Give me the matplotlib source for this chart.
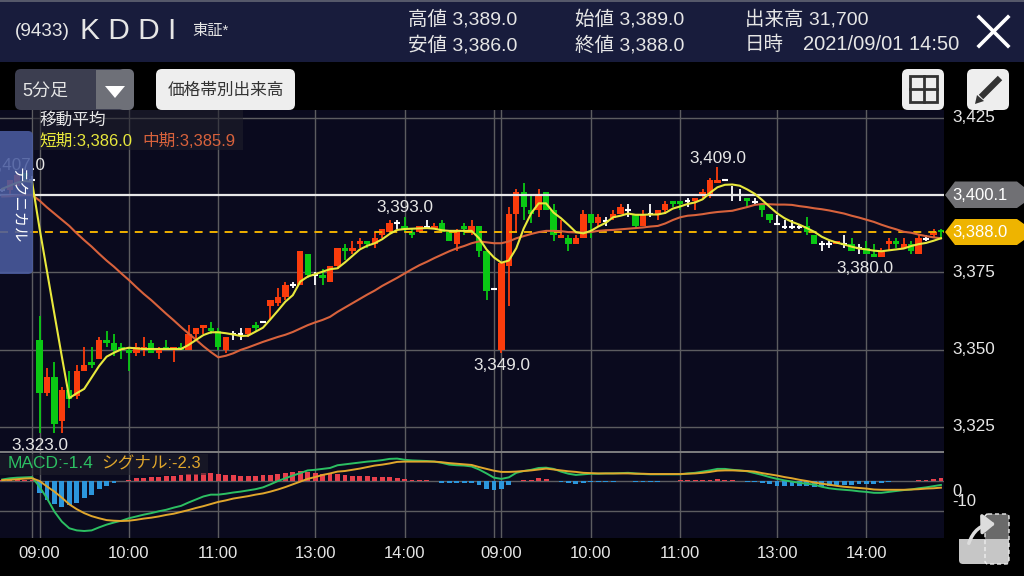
import matplotlib
matplotlib.use('Agg')
import matplotlib.pyplot as plt
import numpy as np
from matplotlib.patches import Rectangle, FancyBboxPatch, Polygon, FancyArrowPatch

plt.rcParams['font.family'] = ['Liberation Sans', 'Noto Sans CJK JP', 'DejaVu Sans']

W, H = 1024, 576

# 5 minute bars, first row is the five bars before the first 09:00
opens = [3401.6, 3401.6, 3403, 3407, 3405,
         3353, 3336, 3341, 3327, 3337, 3335, 3343, 3346, 3347, 3353,
         3352, 3351, 3350, 3349, 3350, 3352, 3349, 3351, 3350, 3351,
         3350, 3355, 3357, 3357, 3356, 3350, 3355, 3355, 3355, 3358,
         3359, 3364, 3365, 3367, 3371, 3371, 3381, 3374, 3374, 3372,
         3377, 3383, 3382, 3384, 3385, 3384, 3387, 3388, 3391, 3390,
         3388, 3388, 3389.5, 3389, 3391, 3388, 3384, 3390, 3388, 3390,
         3382, 3369.7, 3350, 3377, 3394, 3401, 3395, 3395, 3401, 3395,
         3386, 3386, 3384, 3386, 3394, 3391, 3391.7, 3392.5, 3394, 3395,
         3394, 3390, 3394, 3394, 3395, 3398, 3398, 3398, 3398, 3400,
         3400, 3404, 3404.7, 3400, 3400, 3399, 3397.8, 3397, 3394, 3390.7,
         3389.7, 3389.7, 3389.7, 3390, 3387, 3384, 3384, 3384, 3384, 3384,
         3383, 3383, 3381, 3380, 3384, 3385, 3383, 3384, 3381, 3385.8,
         3387, 3388.7]
closes = [3401.6, 3405, 3406.5, 3406, 3405,
          3336, 3341, 3326, 3337, 3334, 3343, 3345, 3345, 3353, 3352,
          3350, 3350, 3349, 3351, 3351, 3349, 3350, 3350, 3351, 3350,
          3355, 3357, 3358, 3356, 3351, 3354, 3355, 3355, 3357, 3357,
          3359, 3366, 3367, 3371, 3371, 3382, 3374, 3374, 3373, 3377,
          3383, 3382, 3383, 3385, 3384, 3386, 3389, 3391, 3391, 3389,
          3387, 3390, 3389.5, 3390, 3388, 3385, 3388.5, 3389, 3390, 3382,
          3369, 3369.7, 3378, 3394, 3401, 3396, 3394, 3400, 3395, 3387,
          3387, 3384, 3386, 3394, 3391, 3393, 3391.7, 3394, 3396, 3395,
          3390, 3394, 3394, 3395, 3397, 3397, 3397, 3398, 3399, 3401,
          3405, 3405, 3404.7, 3400, 3400, 3398, 3397.8, 3395, 3392, 3390.7,
          3389.7, 3389.7, 3389.7, 3388, 3384, 3384, 3384, 3385, 3384, 3382,
          3383, 3381, 3380, 3381.7, 3385, 3384, 3384, 3382, 3386, 3385.8,
          3388, 3388]
highs = [3402, 3405, 3407, 3407, 3406,
         3361, 3344, 3346, 3338, 3343, 3345, 3351, 3351, 3354, 3356,
         3355, 3352, 3351, 3352, 3354, 3353, 3351, 3353, 3351, 3352,
         3358, 3357, 3358, 3359, 3357, 3354, 3356, 3357, 3357, 3359,
         3359, 3366, 3370, 3372, 3372, 3382, 3381, 3375, 3376, 3377,
         3383, 3384, 3385, 3386, 3385, 3388, 3389, 3392, 3392, 3393,
         3389, 3390, 3392, 3391, 3392, 3388, 3389, 3391, 3392, 3390,
         3382, 3369.7, 3378, 3396, 3402, 3404, 3400, 3402, 3401, 3397,
         3392, 3387, 3387, 3395, 3394, 3394, 3393, 3395, 3397, 3397,
         3394, 3395, 3397, 3395, 3398, 3398, 3398, 3399, 3399, 3402,
         3405.5, 3409, 3404.7, 3403, 3402, 3399, 3399, 3397, 3394, 3393.5,
         3392, 3392, 3390.5, 3393, 3387, 3385, 3385, 3385, 3387, 3386,
         3384, 3385, 3384, 3383, 3386, 3386, 3386, 3385, 3387, 3387,
         3389, 3389]
lows = [3401, 3400, 3403, 3405, 3404,
        3323, 3335, 3323, 3323, 3331, 3334, 3343, 3344, 3347, 3351,
        3348, 3347, 3343, 3348, 3348, 3349, 3347, 3350, 3346, 3350,
        3350, 3353, 3355, 3355, 3350, 3349, 3353, 3353, 3354, 3356,
        3359, 3360, 3364, 3366, 3370, 3371, 3373, 3371, 3371, 3372,
        3376, 3379, 3381, 3383, 3383, 3383, 3386, 3388, 3389, 3388,
        3386, 3388, 3389, 3389, 3388, 3385, 3382, 3387, 3387, 3380,
        3366, 3369.7, 3349, 3364, 3388, 3392, 3391, 3393, 3395, 3385,
        3386, 3382, 3384, 3386, 3386, 3390, 3390, 3392, 3394, 3393,
        3389, 3390, 3393, 3392, 3394, 3396, 3395, 3396, 3395, 3399,
        3399, 3404, 3404.7, 3398, 3398, 3396, 3397, 3393, 3391, 3390.7,
        3389, 3389, 3389, 3387, 3384, 3382, 3383, 3384, 3383, 3382,
        3381, 3381, 3380, 3380, 3382, 3383, 3383, 3381, 3381, 3385,
        3386, 3386]

short_ma = [3402, 3403, 3404, 3404.5, 3404.3,
            3389.3, 3375.4, 3361.5, 3347.7, 3334.3, 3335.9, 3337.3, 3341, 3344.7, 3347.7,
            3349, 3350.1, 3350.6, 3350.4, 3350.2, 3350.2, 3350.2, 3350.2, 3350.2, 3350.2,
            3351.5, 3353.1, 3354.7, 3355.6, 3355.6, 3355.3, 3354.9, 3354.4, 3354.5, 3355.8,
            3357.1, 3359.8, 3362.6, 3365.5, 3367.6, 3372, 3373.6, 3374.4, 3375.2, 3376,
            3376.3, 3378.2, 3380.3, 3382.4, 3383.6, 3384.4, 3385.7, 3387.4, 3388.7, 3389,
            3389.1, 3389.2, 3389.3, 3389.1, 3388.6, 3388.4, 3388.4, 3388.4, 3388.4, 3386,
            3382.4, 3379.8, 3378.1, 3378.8, 3382.8, 3389.2, 3394.1, 3397.3, 3397.3, 3394.3,
            3392.5, 3390.3, 3388, 3387.6, 3388.4, 3389.8, 3391, 3392.8, 3393.3, 3394,
            3393.6, 3393.6, 3393.7, 3393.7, 3394.2, 3395.6, 3396.3, 3397.1, 3397.6, 3398.6,
            3400.7, 3402.5, 3403.3, 3403.4, 3403, 3401.8, 3400.4, 3398.4, 3396.2, 3394.1,
            3392.5, 3391.3, 3390.4, 3389.3, 3388.1, 3386.5, 3385.4, 3384.6, 3384, 3383.3,
            3382.7, 3382.4, 3382, 3381.8, 3382.1, 3382.4, 3382.7, 3383.5, 3384.1, 3384.5,
            3385.2, 3386]
mid_ma = [3399.5, 3399.6, 3399.8, 3400, 3400,
          3398.2, 3396, 3394, 3392, 3390, 3387.6, 3385.4, 3383.3, 3381, 3378.8,
          3376.8, 3374.6, 3372.5, 3370.2, 3368, 3366, 3363.8, 3361.6, 3359.5, 3357.3,
          3355.2, 3353.2, 3351.1, 3349.2, 3347.5, 3348, 3348.8, 3349.9, 3350.7, 3351.6,
          3352.5, 3353.3, 3354.1, 3354.8, 3355.7, 3356.8, 3357.9, 3358.8, 3359.6, 3360.6,
          3362.2, 3363.6, 3365, 3366.4, 3367.8, 3369.1, 3370.6, 3371.9, 3373.2, 3374.6,
          3376, 3377.3, 3378.4, 3379.6, 3380.7, 3381.8, 3382.75, 3383.5, 3384.4, 3385,
          3384.7, 3384.4, 3384.4, 3385, 3386, 3386.7, 3387.4, 3388, 3388.4, 3388.4,
          3388.3, 3388, 3387.9, 3387.9, 3388, 3388.4, 3388.6, 3388.7, 3388.9, 3389.1,
          3389.3, 3389.5, 3389.8, 3390, 3390.8, 3391.9, 3392.8, 3393.3, 3393.5, 3393.8,
          3394.2, 3394.5, 3394.7, 3394.9, 3395.5, 3396.1, 3396.8, 3397.1, 3397, 3396.9,
          3396.9, 3396.8, 3396.4, 3396.1, 3395.7, 3395.4, 3395, 3394.5, 3394, 3393.3,
          3392.7, 3392, 3391.3, 3390.4, 3389.6, 3388.9, 3388.1, 3387.8, 3387.2, 3386.7,
          3386.3, 3386]

macd = [0.4, 0.8, 1, 1.1, 1.2,
        -2, -5.8, -10.2, -13.5, -15.7, -16.4, -16.6, -16.4, -15.4, -14.5,
        -13.8, -13.2, -12.4, -11.8, -11.2, -10.7, -10.1, -9.6, -8.9, -8.3,
        -7.2, -6.2, -5.2, -4.6, -4.6, -4.3, -3.9, -3.6, -3.2, -2.8,
        -2.2, -1.2, -0.1, 0.8, 1.7, 2.5, 3.4, 3.6, 3.9, 4.2,
        5.1, 5.4, 5.7, 6, 6.3, 6.5, 6.8, 7.2, 7.3, 6.9,
        6.7, 6.6, 6.5, 6.3, 5.9, 5.3, 5.1, 5, 4.7, 3.7,
        2.4, 1, 0.6, 1.1, 2.6, 3.2, 3.6, 4.2, 4.3, 3.9,
        3, 2.3, 1.9, 2.1, 2.3, 2.3, 2.4, 2.4, 2.5, 2.6,
        2.4, 2.2, 2.1, 2.1, 2.1, 2.1, 2.1, 2.4, 2.6, 3,
        3.4, 3.9, 3.9, 3.6, 3.4, 3.1, 2.5, 1.9, 1.2, 0.6,
        0.1, -0.3, -0.7, -1, -1.3, -2, -2.5, -2.8, -3, -3.2,
        -3.5, -3.7, -4, -4, -3.7, -3.4, -3.1, -2.9, -2.5, -2.2,
        -1.8, -1.4]
signal = [0.2, 0.3, 0.5, 0.7, 0.8,
          -0.1, -1.9, -3.6, -5.6, -7.8, -9.4, -10.7, -11.7, -12.4, -13,
          -13.2, -13.3, -13.2, -12.9, -12.5, -12.2, -11.8, -11.3, -10.9, -10.3,
          -9.7, -9, -8.4, -7.7, -7, -6.5, -5.9, -5.5, -5.1, -4.6,
          -4.2, -3.6, -2.9, -2.1, -1.2, -0.3, 0.6, 1.2, 1.9, 2.4,
          3, 3.2, 3.6, 4, 4.5, 5, 5.3, 5.7, 6.2, 6.3,
          6.3, 6.3, 6.3, 6.3, 6.1, 5.8, 5.6, 5.4, 5.2, 4.5,
          3.9, 3.3, 2.9, 2.9, 3, 3.2, 3.4, 3.7, 4, 3.7,
          3.4, 3.1, 2.9, 2.6, 2.5, 2.4, 2.4, 2.4, 2.4, 2.4,
          2.3, 2.3, 2.2, 2.2, 2.2, 2.2, 2.2, 2.3, 2.4, 2.6,
          2.9, 3.3, 3.4, 3.4, 3.3, 3.2, 3, 2.5, 2.1, 1.7,
          1.2, 0.8, 0.3, -0.1, -0.6, -1, -1.3, -1.7, -2, -2.2,
          -2.4, -2.6, -2.9, -3, -3, -3, -3, -2.9, -2.8, -2.6,
          -2.5, -2.3]
hist = [0.2, 0.3, 0.3, 0.3, 0.3,
        -4.2, -6.4, -7.8, -8.6, -8, -7.3, -5.8, -4.7, -2.9, -1.7,
        -0.9, 0, 0.2, 0.8, 1, 1.2, 1.3, 1.4, 1.7, 1.9,
        2.1, 2.3, 2.5, 2.5, 2.3, 1.9, 1.8, 1.7, 1.7, 1.7,
        1.9, 2, 2.2, 2.5, 2.75, 3.2, 3, 2.5, 2.1, 2.1,
        2.1, 1.9, 1.7, 1.7, 1.4, 1.2, 1.1, 1.1, 1, 0.7,
        0.3, 0.2, 0.1, 0, -0.6, -0.8, -0.9, -0.9, -0.9, -1.4,
        -2.6, -3.1, -2.9, -1.5, -0.1, 0.1, 0.2, 0.8, 0.5, 0,
        -0.5, -0.9, -1.2, -0.7, -0.5, -0.4, -0.4, -0.3, 0, -0.1,
        -0.4, -0.4, -0.4, -0.3, -0.1, 0, 0.1, 0.1, 0.2, 0.2,
        0.3, 0.4, 0.3, 0.2, 0, -0.4, -0.5, -0.8, -1.2, -1.6,
        -1.9, -1.9, -1.9, -1.9, -2, -2, -1.6, -1.5, -1.4, -1.4,
        -1.2, -1.2, -1, -0.8, -0.3, -0.1, 0, 0, 0.3, 0.3,
        0.5, 0.8]

bars = np.arange(-5, 122)
tick_bars = [0, 12, 24, 37, 49, 62, 74, 86, 99, 111]
tick_labels = ['09:00', '10:00', '11:00', '13:00', '14:00', '09:00', '10:00', '11:00', '13:00', '14:00']
day_bars = [-1, 61]
price_levels = [3425, 3375, 3350, 3325]
macd_levels = [0, -10]

BG = '#0a0a1e'
GRID = '#5c5c60'
UP = '#fb3c0c'
DOWN = '#0ac814'
YELLOW = '#e8e83c'
ORANGE = '#d8623c'
MACD_GREEN = '#2cbf62'
SIG_ORANGE = '#e0a62c'
TXT = '#e6e6e6'


def px_axes(fig, x0, y0, x1, y1):
    return fig.add_axes([x0 / W, 1 - y1 / H, (x1 - x0) / W, (y1 - y0) / H])


def round_box(ax, x0, y0, x1, y1, color, r=6, **kw):
    ax.add_patch(FancyBboxPatch((x0 + r, y0 + r), x1 - x0 - 2 * r, y1 - y0 - 2 * r,
                                boxstyle='round,pad=%d,rounding_size=%d' % (r, r),
                                fc=color, ec='none', **kw))


fig = plt.figure(figsize=(W / 100, H / 100), dpi=100, facecolor='black')

# price panel
ax = px_axes(fig, 0, 110, 944, 452)
ax.set_facecolor(BG)
ax.set_xlim(-39.5 / 7.45, (944 - 39.5) / 7.45)
ax.set_ylim(3400 - (452 - 195) / 3.092, 3400 + (195 - 110) / 3.092)
ax.axis('off')
ax.add_patch(Rectangle((0, 0), 1, 1, transform=ax.transAxes, fc=BG, ec='none', zorder=0))
for b in tick_bars + day_bars:
    ax.axvline(b, color=GRID, lw=1, zorder=1)
for p in price_levels:
    ax.axhline(p, color=GRID, lw=1, zorder=1)

for b, o, c, hi, lo in zip(bars, opens, closes, highs, lows):
    col = '#ffffff' if o == c else (UP if c > o else DOWN)
    ax.vlines(b, lo, hi, color=col, lw=1.3, zorder=2)
    if o == c:
        ax.hlines(o, b - 0.38, b + 0.38, color=col, lw=1.5, zorder=2)
    else:
        ax.bar(b, abs(c - o), bottom=min(o, c), width=0.85, color=col, zorder=2)

ax.axhline(3400.1, color='#e8e8e8', lw=1.6, zorder=3)
ax.axhline(3388, color='#f0b000', lw=1.4, dashes=(4.1, 3.6), zorder=3)
ax.plot(bars, mid_ma, color=ORANGE, lw=1.5, zorder=4)
ax.plot(bars, short_ma, color=YELLOW, lw=1.5, zorder=5)

for b, p, dy, dx, s in [(91, 3409, 8.5, 0, '3,409.0'), (49, 3393, 9, 0, '3,393.0'), (-2, 3407, 8, -8, '3,407.0'),
                        (112, 3380, -12, -9, '3,380.0'), (62, 3349, -12.5, 0, '3,349.0'), (0, 3323, -12, 0, '3,323.0')]:
    ax.annotate(s, (b, p), xytext=(dx * 0.72, dy * 0.72), textcoords='offset points', color=TXT,
                fontsize=12.3, ha='center', va='center', zorder=6, annotation_clip=False)

# macd panel
ax2 = px_axes(fig, 0, 452, 944, 537.7)
ax2.set_xlim(ax.get_xlim())
ax2.set_ylim((480.7 - 537.7) / 3.03, (480.7 - 452) / 3.03)
ax2.axis('off')
ax2.add_patch(Rectangle((0, 0), 1, 1, transform=ax2.transAxes, fc=BG, ec='none', zorder=0))
for b in tick_bars + day_bars:
    ax2.axvline(b, color=GRID, lw=1, zorder=1)
for m in macd_levels:
    ax2.axhline(m, color=GRID, lw=1, zorder=1)
hist_cols = ['#e8404c' if v > 0 else '#2c96dc' for v in hist]
ax2.bar(bars, hist, width=0.65, color=hist_cols, zorder=2)
ax2.plot(bars, macd, color=MACD_GREEN, lw=1.4, zorder=3)
ax2.plot(bars, signal, color=SIG_ORANGE, lw=1.4, zorder=4)

# everything around the chart, in pixel coordinates
ui = fig.add_axes([0, 0, 1, 1], zorder=5)
ui.set_xlim(0, W)
ui.set_ylim(H, 0)
ui.axis('off')
ui.patch.set_alpha(0)

ui.add_patch(Rectangle((0, 0), W, 62, fc='#181c3c', ec='none'))
ui.add_patch(Rectangle((0, 0), W, 1.5, fc='#55586a', ec='none'))
ui.add_patch(Rectangle((0, 451), 944, 2.4, fc='#7a7a7c', ec='none'))

ui.text(15, 32, '(9433)', color=TXT, fontsize=13.6, va='center')
ui.text(80, 31, 'K D D I', color=TXT, fontsize=21.5, va='center')
ui.text(192, 31, '東証*', color=TXT, fontsize=11, va='center')
for x, y, s in [(408, 19, '高値 3,389.0'), (408, 45, '安値 3,386.0'), (575, 19, '始値 3,389.0'),
                (575, 45, '終値 3,388.0'), (745, 19, '出来高 31,700')]:
    ui.text(x, y, s, color=TXT, fontsize=14, va='center')
ui.text(745, 45, '日時', color=TXT, fontsize=14, va='center')
ui.text(803, 45, '2021/09/01 14:50', color=TXT, fontsize=14.5, va='center')
ui.plot([979, 1008], [17, 46], color='white', lw=2.6)
ui.plot([1008, 979], [17, 46], color='white', lw=2.6)

# buttons
round_box(ui, 15, 69, 134, 110, '#3c3e50')
ui.add_patch(Rectangle((96, 70), 32, 39, fc='#6e7078', ec='none'))
round_box(ui, 118, 69, 134, 110, '#6e7078')
ui.add_patch(Polygon([[105, 86], [125, 86], [115, 98]], fc='white', ec='none'))
ui.text(22, 91, '5分足', color=TXT, fontsize=13, va='center')
round_box(ui, 156, 69, 295, 110, '#eeeeee')
ui.text(225.5, 90, '価格帯別出来高', color='#333333', fontsize=12, ha='center', va='center')
round_box(ui, 902, 69, 944, 110, '#eeeeee')
ui.add_patch(Rectangle((910, 76), 27, 26, fc='none', ec='#333333', lw=2))
ui.plot([923.5, 923.5], [76, 102], color='#333333', lw=2)
ui.plot([910, 937], [89, 89], color='#333333', lw=2)
round_box(ui, 967, 69, 1009, 110, '#eeeeee')
ui.plot([981, 1000], [97, 78], color='#333333', lw=4.5, solid_capstyle='butt')
ui.add_patch(Polygon([[975, 104], [977, 95], [984, 101]], fc='#333333', ec='none'))

# legends on top of the panels
ui.add_patch(Rectangle((33, 110), 210, 40, fc='#20202c', ec='none', alpha=0.55))
ui.text(39, 120, '移動平均', color=TXT, fontsize=12, va='center')
ui.text(39, 141.5, '短期:3,386.0', color=YELLOW, fontsize=12, va='center')
ui.text(142, 141.5, '中期:3,385.9', color=ORANGE, fontsize=12, va='center')
ui.add_patch(Rectangle((0, 454), 208, 21, fc='#20202c', ec='none', alpha=0.55))
ui.text(8, 464, 'MACD:-1.4', color=MACD_GREEN, fontsize=12.5, va='center')
ui.text(101, 464, 'シグナル:-2.3', color=SIG_ORANGE, fontsize=12, va='center')

# side tab
round_box(ui, -10, 131, 33, 274, '#4a5ca0', r=5, alpha=0.88)
ui.text(17, 205, 'テクニカル', color='white', fontsize=11, rotation=-90, ha='center', va='center')

# right axis
for p in price_levels:
    y = 195 + (3400 - p) * 3.092
    ui.text(952, y, format(p, ','), color=TXT, fontsize=12.3, va='center')
ui.text(952, 491.5, '0', color=TXT, fontsize=12, va='center')
ui.text(952, 502, '-10', color=TXT, fontsize=12, va='center')

ui.add_patch(Polygon([[945, 195], [955, 181.5], [1017, 181.5], [1024, 187], [1024, 203], [1017, 208], [955, 208]],
                     fc='#707074', ec='none'))
ui.text(952, 195, '3,400.1', color='white', fontsize=12, va='center')
ui.add_patch(Polygon([[945, 232], [955, 219], [1017, 219], [1024, 224], [1024, 240], [1017, 245], [955, 245]],
                     fc='#eeb400', ec='none'))
ui.text(952, 232.5, '3,388.0', color='white', fontsize=12, va='center')

# time axis
for b, s in zip(tick_bars, tick_labels):
    ui.text(39.5 + 7.45 * b, 554, s, color=TXT, fontsize=12, ha='center', va='center')

# layout switch icon
round_box(ui, 959, 539, 1009, 564, '#c6c6c6', r=4)
round_box(ui, 985, 514, 1009, 545, '#6a6a6a', r=3)
ui.add_patch(Rectangle((959, 539), 50, 17, fc='#c6c6c6', ec='none'))
ui.add_patch(FancyBboxPatch((985, 514), 24, 50, boxstyle='round,pad=0,rounding_size=3',
                            fc='none', ec='#eeeeee', lw=1, ls=(0, (3, 2))))
ui.add_patch(FancyArrowPatch((968, 546), (998, 524), connectionstyle='arc3,rad=-0.4',
                             arrowstyle='-|>,head_length=5,head_width=4', color='#dddddd', lw=2.5,
                             mutation_scale=1.5))

fig.savefig('out.png', dpi=100, facecolor='black')
